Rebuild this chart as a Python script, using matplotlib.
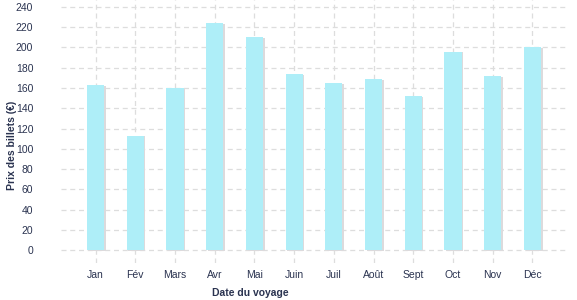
import matplotlib
matplotlib.use("Agg")
import matplotlib.pyplot as plt
import matplotlib.patheffects as pe

months = ["Jan", "Fév", "Mars", "Avr", "Mai", "Juin", "Juil", "Août", "Sept", "Oct", "Nov", "Déc"]
prices = [163, 113, 160, 224, 210, 174, 165, 169, 152, 196, 172, 200]
yticks = [0, 20, 40, 60, 80, 100, 120, 140, 160, 180, 200, 220, 240]

plt.rcParams['font.family'] = ['Liberation Sans', 'DejaVu Sans']
txt = '#2a3350'

fig = plt.figure(figsize=(5.77, 3.0), dpi=100)
ax = fig.add_axes([61/577, 1 - 263/300, (567-61)/577, 263/300])

x = list(range(len(months)))
bars = ax.bar(x, prices, width=0.43, color='#aeeef8', zorder=3)
for b in bars:
    b.set_path_effects([pe.SimplePatchShadow(offset=(1.2, -0.5), shadow_rgbFace='#dcdadc', alpha=1.0), pe.Normal()])

ax.set_xlim(-0.87, 11.87)
ax.set_ylim(-12.8, 246.9)
ax.set_yticks(yticks)
ax.set_xticks(x)
ax.set_xticklabels(months)

for s in ax.spines.values():
    s.set_visible(False)

for v in yticks:
    ax.axhline(v, color='#dddddd', lw=0.9, ls=(0, (4, 3)), zorder=1)
for xi in x:
    ax.axvline(xi, color='#dddddd', lw=0.9, ls=(0, (4, 3)), zorder=1)

ax.tick_params(axis='both', length=0, labelsize=7.5, colors=txt)
ax.tick_params(axis='y', pad=20)
ax.tick_params(axis='x', pad=5)

ax.set_xlabel("Date du voyage", fontsize=7.5, fontweight='bold', color=txt)
ax.xaxis.set_label_coords((250 - 61) / 506, -25 / 263)
ax.set_ylabel("Prix des billets (€)", fontsize=7.5, fontweight='bold', color=txt)
ax.yaxis.set_label_coords((17 - 61) / 506, (263 - 145) / 263)

fig.savefig("out.png", dpi=100)
